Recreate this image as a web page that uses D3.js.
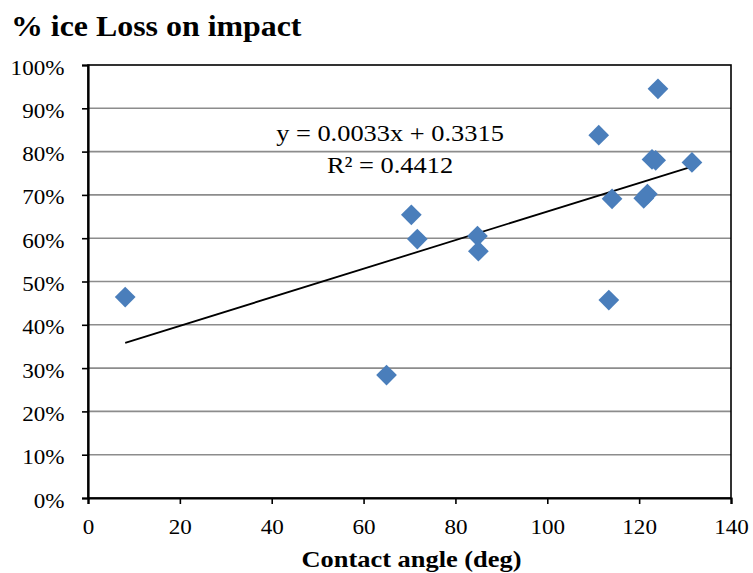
<!DOCTYPE html>
<html>
<head>
<meta charset="utf-8">
<script src="https://cdn.jsdelivr.net/npm/d3@7"></script>
<style>
  html, body { margin: 0; padding: 0; background: #fff; }
  svg { display: block; font-family: "Liberation Serif", "Times New Roman", serif; }
</style>
</head>
<body>
<svg id="chart" width="753" height="573"></svg>
<script>
// Contact angle (deg) of each sample
const contactAngle = [8.1, 65.0, 70.4, 71.7, 84.8, 85.0, 111.2, 113.4, 114.1, 121.0, 121.8, 122.8, 123.6, 124.1, 131.5];
// Fraction of ice lost on impact
const iceLoss = [0.464, 0.284, 0.654, 0.598, 0.605, 0.570, 0.838, 0.457, 0.691, 0.692, 0.702, 0.782, 0.780, 0.945, 0.775];

// Linear trend line reported on the chart
const trendSlope = 0.0033;
const trendIntercept = 0.3315;
const trendR2 = 0.4412;

const xTicks = [0, 20, 40, 60, 80, 100, 120, 140];
const yTicks = [0, 0.1, 0.2, 0.3, 0.4, 0.5, 0.6, 0.7, 0.8, 0.9, 1.0];

const title = "% ice Loss on impact";
const xTitle = "Contact angle (deg)";

// Text is drawn slightly widened
const stretch = 1.1;

const svg = d3.select("#chart");
const plot = { left: 88, right: 731, top: 65, bottom: 498 };

const x = d3.scaleLinear().domain([0, 140]).range([plot.left, plot.right]);
const y = d3.scaleLinear().domain([0, 1]).range([plot.bottom, plot.top]);

function wideText(g, px, py, size, str, opts = {}) {
  return g.append("text")
    .attr("transform", `translate(${px},${py}) scale(${stretch},1)`)
    .attr("font-size", size)
    .attr("font-weight", opts.bold ? "bold" : null)
    .attr("text-anchor", opts.anchor || "start")
    .text(str);
}

// Title
wideText(svg, 11, 36, 29, title, { bold: true });

// Horizontal gridlines
svg.append("g")
  .selectAll("line")
  .data(yTicks.slice(1, -1))
  .join("line")
  .attr("x1", plot.left).attr("x2", plot.right)
  .attr("y1", d => y(d)).attr("y2", d => y(d))
  .attr("stroke", "#8c8c8c").attr("stroke-width", 1.6);

// Plot frame
svg.append("rect")
  .attr("x", plot.left).attr("y", plot.top)
  .attr("width", plot.right - plot.left).attr("height", plot.bottom - plot.top)
  .attr("fill", "none").attr("stroke", "#000").attr("stroke-width", 1.6);

// Y axis
const yAxis = svg.append("g")
  .attr("transform", `translate(${plot.left},0)`)
  .call(d3.axisLeft(y).tickValues(yTicks).tickFormat(d3.format(".0%")).tickSize(6).tickPadding(15.4));
yAxis.select(".domain").attr("stroke-width", 2.2);
yAxis.selectAll(".tick line").attr("stroke-width", 1.6);
yAxis.selectAll("text")
  .attr("font-size", 21).attr("font-family", "Liberation Serif").attr("fill", "#000")
  .attr("dy", "0.43em")
  .attr("transform", `scale(${stretch},1)`);

// X axis
const xAxis = svg.append("g")
  .attr("transform", `translate(0,${plot.bottom})`)
  .call(d3.axisBottom(x).tickValues(xTicks).tickSize(6).tickPadding(15.4));
xAxis.select(".domain").attr("stroke-width", 2.2);
xAxis.selectAll(".tick line").attr("stroke-width", 1.6);
xAxis.selectAll("text")
  .attr("font-size", 21).attr("font-family", "Liberation Serif").attr("fill", "#000")
  .attr("transform", `scale(${stretch},1)`);

// X axis title
wideText(svg, (plot.left + plot.right) / 2 + 2, 567, 24, xTitle, { bold: true, anchor: "middle" });

// Trend line over the data's x range
const [xMin, xMax] = d3.extent(contactAngle);
svg.append("line")
  .attr("x1", x(xMin)).attr("y1", y(trendSlope * xMin + trendIntercept))
  .attr("x2", x(xMax)).attr("y2", y(trendSlope * xMax + trendIntercept))
  .attr("stroke", "#000").attr("stroke-width", 1.8);

// Data points as diamonds
const diamond = d3.symbol().type(d3.symbolSquare).size(215);
svg.append("g")
  .selectAll("path")
  .data(contactAngle.map((a, i) => [a, iceLoss[i]]))
  .join("path")
  .attr("d", diamond)
  .attr("transform", d => `translate(${x(d[0])},${y(d[1])}) rotate(45)`)
  .attr("fill", "#4a7ebb");

// Trend equation
wideText(svg, 390, 141, 24, `y = ${trendSlope.toFixed(4)}x + ${trendIntercept.toFixed(4)}`, { anchor: "middle" });
wideText(svg, 390, 173, 24, `R² = ${trendR2.toFixed(4)}`, { anchor: "middle" });
</script>
</body>
</html>
